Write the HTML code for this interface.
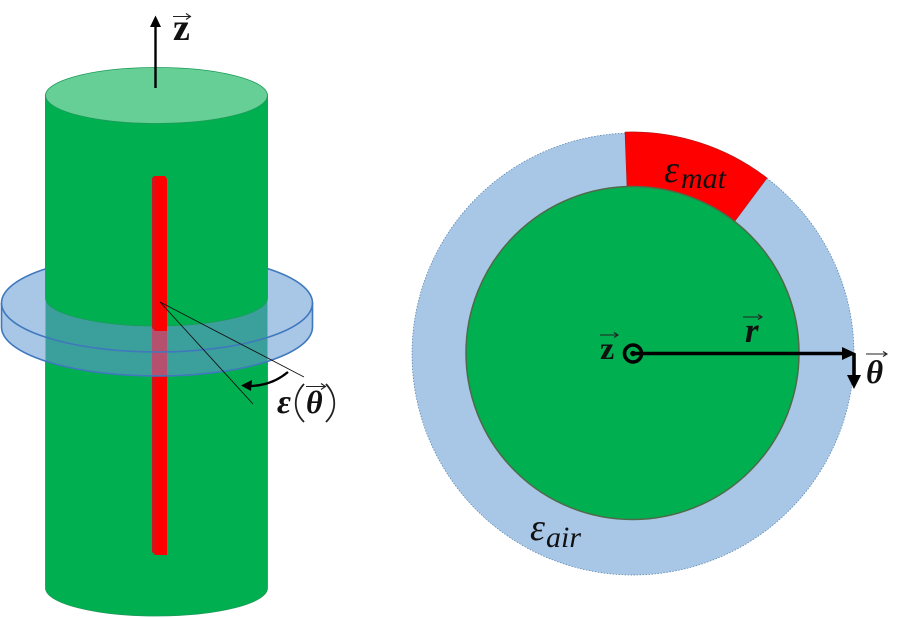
<!DOCTYPE html>
<html><head><meta charset="utf-8"><style>html,body{margin:0;padding:0;background:#fff}svg{display:block;filter:blur(.35px)}</style></head>
<body>
<svg width="900" height="618" viewBox="0 0 900 618" xmlns="http://www.w3.org/2000/svg">
<defs>
<linearGradient id="bar" x1="0" x2="1" y1="0" y2="0"><stop offset="0" stop-color="#d4141c"/><stop offset=".2" stop-color="#d4141c"/><stop offset=".24" stop-color="#ff0000"/><stop offset="1" stop-color="#ff0000"/></linearGradient>
<clipPath id="cyl"><rect x="45.500" y="0" width="222" height="618"/></clipPath>
<clipPath id="disk"><path d="M1.500 303V327A155.500 49 0 0 0 312.500 327V303A155.500 49 0 0 0 1.500 303Z"/></clipPath>
</defs>
<!-- cylinder -->
<path d="M45.500 95V588A111 28 0 0 0 267.500 588V95Z" fill="#00b050" stroke="#1c9a58" stroke-width="0.800"/>
<!-- lower bar -->
<path d="M152 331H167V555H155L152 552Z" fill="url(#bar)"/>
<!-- disk -->
<path d="M1.500 303V327A155.500 49 0 0 0 312.500 327V303A155.500 49 0 0 0 1.500 303Z" fill="#a8c6e6"/>
<g clip-path="url(#disk)">
<rect x="45.500" y="250" width="222" height="130" fill="#3b9f9b"/>
<rect x="152" y="325" width="15" height="55" fill="#b5506f"/>
</g>
<path d="M1.500 303V327A155.500 49 0 0 0 312.500 327V303" fill="none" stroke="#3f78bd" stroke-width="1.600"/>
<ellipse cx="157" cy="303" rx="155.500" ry="49" fill="none" stroke="#3f78bd" stroke-width="1.600"/>
<!-- upper cylinder -->
<path d="M45.500 95V298A111 28 0 0 0 267.500 298V95Z" fill="#00b050" stroke="#1c9a58" stroke-width="0.800"/>
<path d="M152 178L154 176H165L167 179V331H155L152 328Z" fill="url(#bar)"/>
<ellipse cx="156.500" cy="95.500" rx="111" ry="28" fill="#66cf95" stroke="#1c9a58" stroke-width="0.800"/>
<!-- z arrow -->
<path d="M155.500 88V24" stroke="#000" stroke-width="2.400" fill="none"/>
<path d="M150 27L155.500 15.500L161 27Z" fill="#000"/>
<path d="M173 16.500H190M186 13.500L190.500 16.500L186 19.500" fill="none" stroke="#222" stroke-width="1.100"/>
<text x="173" y="40" font-family="Liberation Serif" font-weight="bold" font-size="38" fill="#111">z</text>
<!-- angle lines -->
<path d="M160 302L304 377M160 302L253 404" fill="none" stroke="#111" stroke-width="0.900"/>
<path d="M288 372C276 382 263 386 249 386" fill="none" stroke="#000" stroke-width="2.400"/>
<path d="M241 385.500L252 380L251 391Z" fill="#000"/>
<text x="277" y="413" font-family="Liberation Serif" font-weight="bold" font-style="italic" font-size="34" fill="#111">ε</text>
<path d="M304 384C293 396 293 411 304 422M326 384C337 396 337 411 326 422" fill="none" stroke="#222" stroke-width="1.800"/>
<text x="306" y="413" font-family="Liberation Serif" font-weight="bold" font-style="italic" font-size="32" fill="#111">θ</text>
<path d="M306 386.500H325M321 383.500L325.500 386.500L321 389.500" fill="none" stroke="#222" stroke-width="1.100"/>
<!-- right diagram -->
<circle cx="633" cy="354" r="221" fill="#a8c6e6" stroke="#4f7fa8" stroke-width="0.700" stroke-dasharray="1.500 1.500"/>
<path d="M625 132A222 222 0 0 1 767 178L735 221A167 167 0 0 0 627 187Z" fill="#ff0000" stroke="#b01a1a" stroke-width="0.600"/>
<circle cx="632.500" cy="353" r="166.500" fill="#00b050" stroke="#4f6a48" stroke-width="1.500"/>
<text x="664" y="182" font-family="Liberation Serif" font-style="italic" font-size="38" fill="#111">ε</text>
<text x="681" y="188" font-family="Liberation Serif" font-style="italic" font-size="30" fill="#111">mat</text>
<text x="530" y="540" font-family="Liberation Serif" font-style="italic" font-size="38" fill="#111">ε</text>
<text x="546" y="547" font-family="Liberation Serif" font-style="italic" font-size="30" fill="#111">air</text>
<circle cx="633" cy="353.500" r="8.500" fill="none" stroke="#000" stroke-width="3.600"/>
<circle cx="633" cy="353.500" r="2.800" fill="#000"/>
<path d="M633 353.500H848" stroke="#000" stroke-width="3.600" fill="none"/>
<path d="M842 347L856 353.500L842 360Z" fill="#000"/>
<path d="M854 353.500V380" stroke="#000" stroke-width="3.600" fill="none"/>
<path d="M847 375H861L854 389Z" fill="#000"/>
<text x="600" y="359" font-family="Liberation Serif" font-weight="bold" font-size="32" fill="#111">z</text>
<path d="M600 335H617M614 332.500L618 335L614 337.500" fill="none" stroke="#222" stroke-width="1.100"/>
<text x="745" y="342" font-family="Liberation Serif" font-weight="bold" font-style="italic" font-size="35" fill="#111">r</text>
<path d="M743 317H761M758 314.500L762 317L758 319.500" fill="none" stroke="#222" stroke-width="1.100"/>
<text x="866" y="383" font-family="Liberation Serif" font-weight="bold" font-style="italic" font-size="33" fill="#111">θ</text>
<path d="M866 354H886M883 351.500L887 354L883 356.500" fill="none" stroke="#222" stroke-width="1.100"/>
</svg>
</body></html>
